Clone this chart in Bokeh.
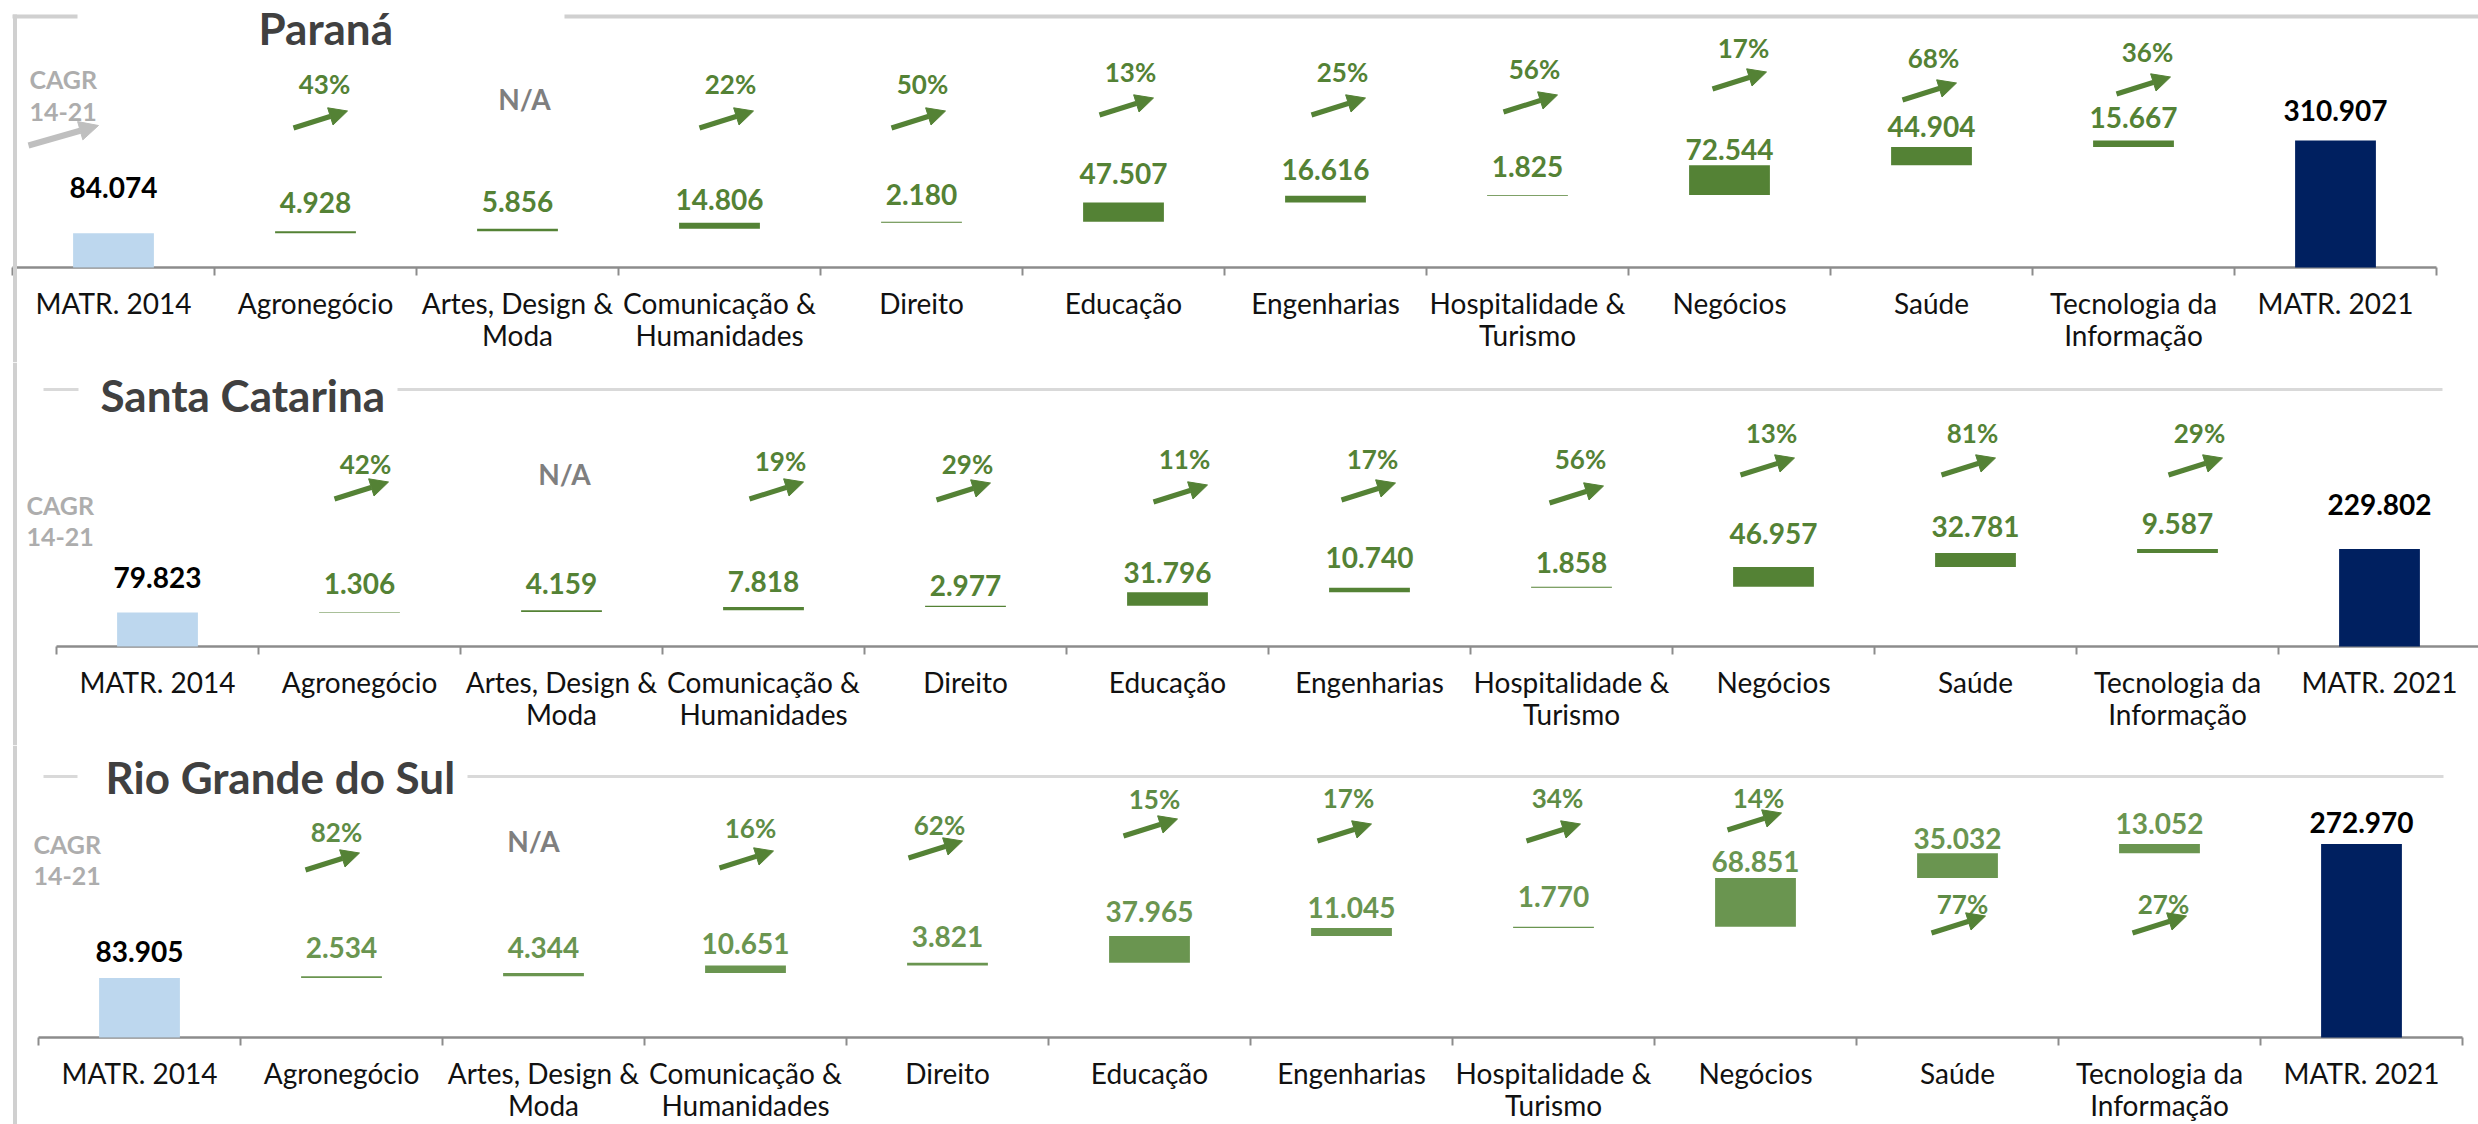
from bokeh.plotting import figure
from bokeh.layouts import column
from bokeh.models import Range1d, ColumnDataSource, Arrow, NormalHead
from bokeh.core.properties import value
from bokeh.embed import file_html
from bokeh.resources import INLINE

# ---------------- data ----------------
CATEGORIES = ["MATR. 2014", "Agronegócio", "Artes, Design &\nModa",
              "Comunicação &\nHumanidades", "Direito", "Educação", "Engenharias",
              "Hospitalidade &\nTurismo", "Negócios", "Saúde",
              "Tecnologia da\nInformação", "MATR. 2021"]
STATES = ["Paraná", "Santa Catarina", "Rio Grande do Sul"]
PR_VALUES = [84074, 4928, 5856, 14806, 2180, 47507, 16616, 1825, 72544, 44904, 15667, 310907]
SC_VALUES = [79823, 1306, 4159, 7818, 2977, 31796, 10740, 1858, 46957, 32781, 9587, 229802]
RS_VALUES = [83905, 2534, 4344, 10651, 3821, 37965, 11045, 1770, 68851, 35032, 13052, 272970]
PR_CAGR = [None, 43, "N/A", 22, 50, 13, 25, 56, 17, 68, 36, None]
SC_CAGR = [None, 42, "N/A", 19, 29, 11, 17, 56, 13, 81, 29, None]
RS_CAGR = [None, 82, "N/A", 16, 62, 15, 17, 34, 14, 77, 27, None]
CAGR_TITLE = ["CAGR", "14-21"]

# ---------------- layout / style ----------------
FONT = value("Lato")
W = 2478          # page has no margin (bokeh template)
PAGE_X = 0
U = 202           # px per category
BAR_W = 0.4
LIGHT_BLUE = "#BDD7EE"
NAVY = "#002060"
AXIS_C = "#8C8C8C"
FRAME_C = "#D0D0D0"

LABEL_SIZE = 28
VALUE_SIZE = 28
PCT_SIZE = 26
NA_SIZE = 28
CAGR_SIZE = 25
TITLE_SIZE = 44
CAP = 0.36        # cap-centre height above baseline (em)

LAYOUT = [
    dict(top=0, height=362, x0=12, base=267, k=2450,
         title_x=258, title_base=43,
         rule_y=16, rule_w=4, rule_c="#D0D0D0", rules=[(12, 77), (564, 2478)],
         vtop=14, cagr_x=29, cagr_base=[87, 120], legend_arrow=(28, 145, 98, 125),
         gaps=[36, 19, 17, 13, 17, 19, 16, 18, 6, 10, 13, 20],
         pct_c=[None, 184, 169, 184, 184, 196, 196, 199, 220, 210, 216, None],
         arr_c=[None, 148, None, 148, 148, 161, 161, 164, 187, 176, 182, None],
         nudge=[0, 9, 7, 11, 1, 7, 17, 7, 14, 2, 14, 0],
         green="#548235", lab_c="#548235", pct_col="#548235", arr_col="#548235"),
    dict(top=362, height=383, x0=56, base=646, k=2355,
         title_x=100, title_base=410,
         rule_y=389, rule_w=3, rule_c="#D9D9D9", rules=[(43, 78), (397, 2442)],
         vtop=None, cagr_x=26, cagr_base=[513, 545], legend_arrow=None,
         gaps=[25, 18, 17, 15, 10, 10, 20, 14, 23, 16, 15, 34],
         pct_c=[None, 183, 173, 186, 183, 188, 188, 188, 214, 214, 214, None],
         arr_c=[None, 156, None, 156, 155, 153, 155, 152, 180, 180, 180, None],
         nudge=[0, 6, 3, 17, 2, 17, 3, 9, -2, -3, 22, 0],
         green="#548235", lab_c="#548235", pct_col="#548235", arr_col="#548235"),
    dict(top=745, height=379, x0=38, base=1037, k=1410,
         title_x=105, title_base=792,
         rule_y=776, rule_w=3, rule_c="#D9D9D9", rules=[(43, 77), (467, 2443)],
         vtop=None, cagr_x=33, cagr_base=[852, 884], legend_arrow=None,
         gaps=[16, 19, 16, 12, 16, 14, 11, 20, 6, 5, 10, 11],
         pct_c=[None, 206, 197, 210, 213, 239, 240, 240, 240, 134, 134, None],
         arr_c=[None, 176, None, 178, 188, 210, 205, 205, 216, 113, 113, None],
         nudge=[0, -5, -10, 5, -8, 5, -3, 4, 3, 5, 4, 0],
         green="#6A9550", lab_c="#6A9550", pct_col="#5E8C45", arr_col="#548235"),
]


def fmt(v):
    return f"{v:,}".replace(",", ".")


def make_panel(state, vals, cagr, L):
    T, H = L["top"], L["height"]
    x0, Yb, k = L["x0"], L["base"], L["k"]

    def X(px):
        return (px - x0) / U

    def Y(py):
        return (Yb - py) * k

    p = figure(width=W, height=H, output_backend="svg", toolbar_location=None,
               x_range=Range1d(X(PAGE_X), X(PAGE_X + W)),
               y_range=Range1d(Y(T + H), Y(T)),
               x_axis_location=None, y_axis_location=None,
               min_border=0, min_border_left=0, min_border_right=0,
               min_border_top=0, min_border_bottom=0)
    p.outline_line_color = None
    p.background_fill_color = "white"
    p.border_fill_color = "white"
    p.grid.visible = False

    n = len(CATEGORIES)
    centers = [i + 0.5 for i in range(n)]

    # waterfall geometry
    bottoms, tops, colors = [], [], []
    run = 0
    for i, v in enumerate(vals):
        if i == 0:
            bottoms.append(0); tops.append(v); colors.append(LIGHT_BLUE); run = v
        elif i == n - 1:
            bottoms.append(0); tops.append(v); colors.append(NAVY)
        else:
            bottoms.append(run); tops.append(run + v); colors.append(L["green"]); run += v

    # title rules
    for (a, b) in L["rules"]:
        p.segment(x0=[X(a)], y0=[Y(L["rule_y"])], x1=[X(b)], y1=[Y(L["rule_y"])],
                  line_color=L["rule_c"], line_width=L["rule_w"])

    # axis line and ticks
    p.segment(x0=[0], y0=[0], x1=[n], y1=[0], line_color=AXIS_C, line_width=2.5)
    p.segment(x0=list(range(n + 1)), y0=[0] * (n + 1), x1=list(range(n + 1)),
              y1=[-8 * k] * (n + 1), line_color=AXIS_C, line_width=2)

    # bars
    p.vbar(x=centers, width=BAR_W, bottom=bottoms, top=tops, fill_color=colors,
           line_color=None)

    # left frame line
    vt = L["vtop"] if L["vtop"] is not None else T
    p.segment(x0=[X(14.5)], y0=[Y(vt)], x1=[X(14.5)], y1=[Y(T + H)],
              line_color=FRAME_C, line_width=4)

    common = dict(text_font=FONT, text_baseline="middle")

    # value labels
    lab_cols = ["#000000"] + [L["lab_c"]] * (n - 2) + ["#000000"]
    src = ColumnDataSource(dict(x=centers,
                                y=[t + (g + CAP * VALUE_SIZE) * k for t, g in zip(tops, L["gaps"])],
                                t=[fmt(v) for v in vals], c=lab_cols))
    p.text(x="x", y="y", text="t", text_color="c", source=src,
           text_font_size=f"{VALUE_SIZE}px", text_font_style="bold",
           text_align="center", **common)

    # category labels (two lines)
    l1x, l1t, l2x, l2t = [], [], [], []
    for c, name in zip(centers, CATEGORIES):
        parts = name.split("\n")
        l1x.append(c); l1t.append(parts[0])
        if len(parts) > 1:
            l2x.append(c); l2t.append(parts[1])
    off = CAP * LABEL_SIZE
    p.text(x=l1x, y=[Y(Yb + 46 - off)] * len(l1x), text=l1t,
           text_font_size=f"{LABEL_SIZE}px", text_color="#111111",
           text_align="center", **common)
    p.text(x=l2x, y=[Y(Yb + 78 - off)] * len(l2x), text=l2t,
           text_font_size=f"{LABEL_SIZE}px", text_color="#111111",
           text_align="center", **common)

    # CAGR percentages, N/A and arrows
    px_, py_, pt_, pc_ = [], [], [], []
    nx, ny = [], []
    ax0, ay0, ax1, ay1 = [], [], [], []
    for i, cg in enumerate(cagr):
        if cg is None:
            continue
        cx = centers[i] + L["nudge"][i] / U
        if cg == "N/A":
            nx.append(cx); ny.append(L["pct_c"][i] * k)
            continue
        px_.append(cx)
        py_.append(L["pct_c"][i] * k)
        pt_.append(f"{cg}%"); pc_.append(L["pct_col"])
        a = L["arr_c"][i]
        acx = cx - 4 / U
        ax0.append(acx - 27 / U); ax1.append(acx + 27 / U)
        ay0.append((a - 8.5) * k); ay1.append((a + 8.5) * k)
    p.text(x=px_, y=py_, text=pt_, text_color=pc_,
           text_font_size=f"{PCT_SIZE}px", text_font_style="bold",
           text_align="center", **common)
    p.text(x=nx, y=ny, text=["N/A"] * len(nx), text_color="#7F7F7F",
           text_font_size=f"{NA_SIZE}px", text_font_style="bold",
           text_align="center", **common)
    asrc = ColumnDataSource(dict(x0=ax0, y0=ay0, x1=ax1, y1=ay1))
    p.add_layout(Arrow(end=NormalHead(size=18, fill_color=L["arr_col"],
                                      line_color=L["arr_col"], line_width=1),
                       x_start="x0", y_start="y0", x_end="x1", y_end="y1",
                       source=asrc, line_color=L["arr_col"], line_width=5))

    # CAGR 14-21 caption
    p.text(x=[X(L["cagr_x"])] * 2,
           y=[Y(b - CAP * CAGR_SIZE) for b in L["cagr_base"]], text=CAGR_TITLE,
           text_font_size=f"{CAGR_SIZE}px", text_font_style="bold",
           text_color="#ADADAD", text_align="left", **common)
    if L["legend_arrow"] is not None:
        a0, b0, a1, b1 = L["legend_arrow"]
        p.add_layout(Arrow(end=NormalHead(size=19, fill_color="#BFBFBF",
                                          line_color="#BFBFBF", line_width=1),
                           x_start=X(a0), y_start=Y(b0), x_end=X(a1), y_end=Y(b1),
                           line_color="#BFBFBF", line_width=6))

    # panel title
    p.text(x=[X(L["title_x"])], y=[Y(L["title_base"] - CAP * TITLE_SIZE)], text=[state],
           text_font_size=f"{TITLE_SIZE}px", text_font_style="bold", text_color="#404040",
           text_align="left", **common)
    return p


figs = [make_panel(s, v, c, L) for s, v, c, L in
        zip(STATES, [PR_VALUES, SC_VALUES, RS_VALUES], [PR_CAGR, SC_CAGR, RS_CAGR], LAYOUT)]
layout = column(*figs, spacing=0)
open("out.html", "w").write(file_html(layout, INLINE))
